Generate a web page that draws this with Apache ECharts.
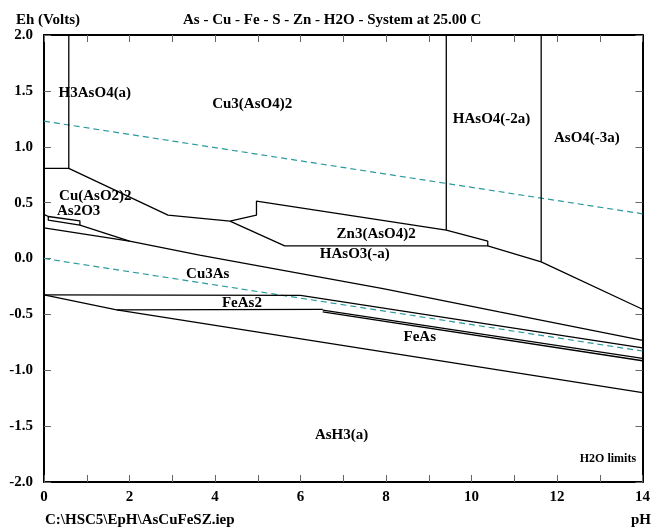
<!DOCTYPE html>
<html>
<head>
<meta charset="utf-8">
<script src="https://cdn.jsdelivr.net/npm/echarts@6/dist/echarts.min.js"></script>
<style>html,body{margin:0;padding:0;background:#fff;}#c{width:653px;height:528px;}</style>
</head>
<body>
<div id="c"></div>
<script>
// ---- axis ticks ----
const xTickValues = [0, 2, 4, 6, 8, 10, 12, 14];
const yTickValues = [-2.0, -1.5, -1.0, -0.5, 0.0, 0.5, 1.0, 1.5, 2.0];

// ---- water stability limits (pH, Eh) ----
const waterUpper = [[0, 1.229], [14, 0.400]];
const waterLower = [[0, 0.0], [14, -0.828]];

// ---- phase boundaries (pH, Eh) ----
const bH3AsO4 = [[0.58, 2.0], [0.58, 0.806], [0, 0.806]];
const bCu3AsO42 = [[0.58, 0.806], [2.90, 0.388], [4.35, 0.334], [4.97, 0.388], [4.97, 0.513], [9.41, 0.254], [10.38, 0.155], [10.38, 0.113], [5.63, 0.113], [4.35, 0.334]];
const bHAsO4 = [[9.41, 2.0], [9.41, 0.254]];
const bAsO4 = [[11.63, 2.0], [11.63, -0.030]];
const bHAsO3 = [[10.38, 0.113], [11.63, -0.030], [14, -0.454]];
const bAs2O3 = [[0, 0.395], [0.10, 0.376], [0.84, 0.337], [0.84, 0.298], [0.10, 0.343], [0.10, 0.376]];
const bCuAsO22 = [[0.84, 0.298], [2.0, 0.155]];
const bCu3AsUpper = [[0, 0.274], [2.0, 0.155], [3.64, 0.030], [7.93, -0.269], [10.65, -0.478], [14, -0.732]];
const bFeAs2Top = [[0, -0.325], [6.0, -0.330], [14, -0.800]];
const bFeAs2Left = [[0, -0.325], [1.70, -0.460]];
const bFeAs2Bottom = [[1.70, -0.460], [6.52, -0.455]];
const bAsH3 = [[1.70, -0.460], [14, -1.200]];
const bFeAsA = [[6.52, -0.462], [14, -0.893]];
const bFeAsB = [[6.52, -0.478], [14, -0.915]];

// ---- region labels (text, pH, Eh) ----
const regionNames = ['H3AsO4(a)', 'Cu3(AsO4)2', 'HAsO4(-2a)', 'AsO4(-3a)', 'Cu(AsO2)2', 'As2O3', 'Zn3(AsO4)2', 'HAsO3(-a)', 'Cu3As', 'FeAs2', 'FeAs', 'AsH3(a)'];
const regionPH = [1.19, 4.87, 10.47, 12.70, 1.20, 0.81, 7.77, 7.27, 3.83, 4.63, 8.79, 6.96];
const regionEh = [1.481, 1.383, 1.247, 1.077, 0.558, 0.424, 0.218, 0.039, -0.141, -0.401, -0.705, -1.583];
const noteText = 'H2O limits';
const notePos = [13.85, -1.79];

const FONT = '"Liberation Serif", "Times New Roman", serif';
const boundaries = [bH3AsO4, bCu3AsO42, bHAsO4, bAsO4, bHAsO3, bAs2O3, bCuAsO22, bCu3AsUpper, bFeAs2Top, bFeAs2Left, bFeAs2Bottom, bAsH3, bFeAsA, bFeAsB];

const series = [];
boundaries.forEach(function (b) {
  series.push({
    type: 'line', data: b, symbol: 'none', silent: true, animation: false,
    lineStyle: { color: '#000', width: 1.3 }, z: 3
  });
});
[waterUpper, waterLower].forEach(function (w) {
  series.push({
    type: 'line', data: w, symbol: 'none', silent: true, animation: false,
    lineStyle: { color: '#2a9a9e', width: 1.2, type: [6, 4] }, z: 2
  });
});
const labelData = regionNames.map(function (n, i) { return { value: [regionPH[i], regionEh[i]], name: n }; });
labelData.push({ value: notePos, name: noteText, label: { align: 'right', fontSize: 12 } });
series.push({
  type: 'scatter', data: labelData, symbolSize: 1, itemStyle: { color: 'rgba(0,0,0,0)' }, silent: true, animation: false, z: 5,
  label: { show: true, position: 'inside', formatter: function (p) { return p.name; }, color: '#000', opacity: 1,
    textBorderWidth: 0, textBorderColor: 'transparent', fontFamily: FONT, fontWeight: 'bold', fontSize: 15 }
});

const axisCommon = {
  axisLine: { show: true, onZero: false, lineStyle: { color: '#000', width: 2 } },
  axisTick: { show: true, inside: true, length: 7, lineStyle: { color: '#666', width: 1 } },
  splitLine: { show: false }
};
const tStyle = { fontFamily: FONT, fontWeight: 'bold', fontSize: 15, color: '#000' };

const chart = echarts.init(document.getElementById('c'), null, { renderer: 'canvas' });
chart.setOption({
  animation: false,
  backgroundColor: '#fff',
  title: [
    { text: 'Eh (Volts)', left: 11, top: 8, textStyle: tStyle },
    { text: 'As - Cu - Fe - S - Zn - H2O - System at 25.00 C', left: 178, top: 8, textStyle: tStyle },
    { text: 'C:\\HSC5\\EpH\\AsCuFeSZ.iep', left: 40, top: 508, textStyle: tStyle },
    { text: 'pH', left: 626, top: 508, textStyle: tStyle }
  ],
  grid: { left: 44, right: 10, top: 35, bottom: 46, show: false },
  xAxis: [
    Object.assign({ type: 'value', min: 0, max: 14, interval: 1, position: 'bottom',
      axisLabel: { margin: 8, color: '#000', fontFamily: FONT, fontWeight: 'bold', fontSize: 15,
        formatter: function (v) { return xTickValues.indexOf(v) >= 0 ? String(v) : ''; } } }, axisCommon),
    Object.assign({ type: 'value', min: 0, max: 14, interval: 1, position: 'top', axisLabel: { show: false } }, axisCommon)
  ],
  yAxis: [
    Object.assign({ type: 'value', min: -2, max: 2, interval: 0.5, position: 'left',
      axisLabel: { margin: 11, color: '#000', fontFamily: FONT, fontWeight: 'bold', fontSize: 15,
        formatter: function (v) { return yTickValues.indexOf(v) >= 0 ? v.toFixed(1) : ''; } } }, axisCommon),
    Object.assign({ type: 'value', min: -2, max: 2, interval: 0.5, position: 'right', axisLabel: { show: false } }, axisCommon)
  ],
  series: series
});
</script>
</body>
</html>
